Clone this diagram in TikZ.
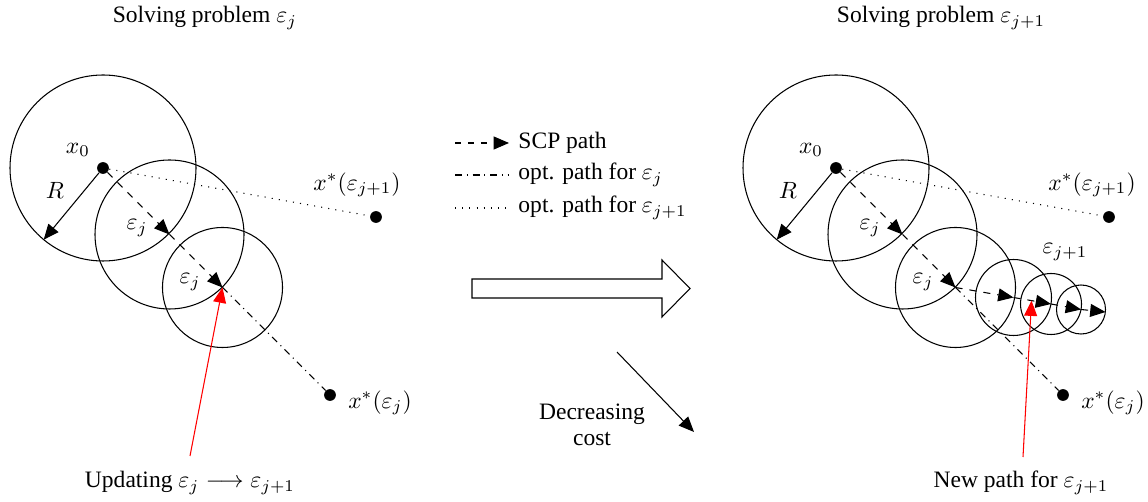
\documentclass[tikz,border=0pt]{standalone}
\usepackage{fontspec}
\setmainfont{Liberation Serif}
\usetikzlibrary{arrows.meta,calc}
\tikzset{
  ring/.style={draw, line width=0.45pt},
  dot/.style={circle, fill=black, inner sep=0pt, minimum size=5pt},
  lbl/.style={inner sep=0pt},
  scp/.style={dashed, line width=0.45pt, -{Triangle[length=6.5pt,width=5.5pt]}},
  optj/.style={line width=0.45pt, dash pattern=on 3pt off 2pt on 0.45pt off 2pt},
  optjj/.style={line width=0.45pt, dash pattern=on 0.45pt off 2.6pt},
  radarrow/.style={line width=0.45pt, -{Triangle[length=6.5pt,width=5.5pt]}},
  redarrow/.style={red, line width=0.45pt, -{Triangle[length=6.5pt,width=5.5pt]}},
}
\begin{document}
\begin{tikzpicture}[x=0.425pt, y=-0.425pt]
\useasboundingbox (0,0) rectangle (1148,502);

% ---------- Titles ----------
\node[lbl] (tL) at (205,18) {Solving problem $\varepsilon_j$};
\node[lbl] (tR) at (941,18) {Solving problem $\varepsilon_{j+1}$};

% ---------- Left panel ----------
\coordinate (c2) at (169.5,234.5);
\coordinate (c3) at (222.5,287.5);
\coordinate (Rend) at (43.7,239.7);
\node[dot] (x0) at (103,168) {};
\node[dot] (xsj) at (330,395) {};
\node[dot] (xsjj) at (376,217) {};
\draw[ring] (103,168) circle[radius=93];
\draw[ring] (c2) circle[radius=74.5];
\draw[ring] (c3) circle[radius=60];
\draw[optjj] (x0) -- (xsjj);
\draw[optj] (c3) -- (xsj);
\draw[scp] (x0) -- (c2);
\draw[scp] (c2) -- (c3);
\draw[radarrow] (x0) -- (Rend);
\node[lbl] (lx0) at (78,150) {$x_0$};
\node[lbl] (lR) at (55,190) {$R$};
\node[lbl] (le1) at (137,228) {$\varepsilon_j$};
\node[lbl] (le2) at (190,282) {$\varepsilon_j$};
\node[lbl] (lxsjj) at (357,185) {$x^{*}(\varepsilon_{j+1})$};
\node[lbl] (lxsj) at (380,403) {$x^{*}(\varepsilon_j)$};
\node[lbl] (upd) at (190,483) {Updating $\varepsilon_j \longrightarrow \varepsilon_{j+1}$};
\coordinate (updtop) at (190,456);
\draw[redarrow] (updtop) -- (c3);

% ---------- Legend ----------
\coordinate (la1) at (455,143); \coordinate (lb1) at (509,143);
\coordinate (la2) at (455,175); \coordinate (lb2) at (508,175);
\coordinate (la3) at (455,208); \coordinate (lb3) at (508,208);
\draw[scp, dash pattern=on 2.5pt off 3pt] (la1) -- (lb1);
\draw[optj] (la2) -- (lb2);
\draw[optjj] (la3) -- (lb3);
\node[lbl, anchor=west] (lg1) at (518,143) {SCP path};
\node[lbl, anchor=west] (lg2) at (518,175) {opt. path for $\varepsilon_j$};
\node[lbl, anchor=west] (lg3) at (518,208) {opt. path for $\varepsilon_{j+1}$};

% ---------- Big hollow arrow ----------
\draw[line width=0.45pt, fill=white] (472,279) -- (662,279) -- (662,260) -- (690,288.5)
  -- (662,317) -- (662,298) -- (472,298) -- cycle;

% ---------- Decreasing cost ----------
\coordinate (dc1) at (617,352);
\coordinate (dc2) at (694,432);
\draw[radarrow] (dc1) -- (dc2);
\node[lbl, align=center] (dctext) at (592,425) {Decreasing\\[-1pt]cost};

% ---------- Right panel ----------
\coordinate (c2R) at (902.5,234.5);
\coordinate (c3R) at (955.5,287.5);
\coordinate (cA) at (1013.5,297.5);
\coordinate (cB) at (1051,304);
\coordinate (cC) at (1081,309.5);
\coordinate (cEnd) at (1105.5,312);
\coordinate (RendR) at (776.7,239.7);
\node[dot] (x0R) at (836,168) {};
\node[dot] (xsjR) at (1063,395) {};
\node[dot] (xsjjR) at (1109,217) {};
\draw[ring] (836,168) circle[radius=93];
\draw[ring] (c2R) circle[radius=74.5];
\draw[ring] (c3R) circle[radius=60];
\draw[ring] (cA) circle[radius=38];
\draw[ring] (cB) circle[radius=30.5];
\draw[ring] (cC) circle[radius=24.5];
\draw[optjj] (x0R) -- (xsjjR);
\draw[optj] (c3R) -- (xsjR);
\draw[scp] (x0R) -- (c2R);
\draw[scp] (c2R) -- (c3R);
\draw[scp] (c3R) -- (cA);
\draw[scp] (cA) -- (cB);
\draw[scp] (cB) -- (cC);
\draw[scp] (cC) -- (cEnd);
\draw[radarrow] (x0R) -- (RendR);
\node[lbl] (lx0R) at (811,150) {$x_0$};
\node[lbl] (lRR) at (788,190) {$R$};
\node[lbl] (le1R) at (870,228) {$\varepsilon_j$};
\node[lbl] (le2R) at (923,282) {$\varepsilon_j$};
\node[lbl] (le3R) at (1065,252) {$\varepsilon_{j+1}$};
\node[lbl] (lxsjjR) at (1092,185) {$x^{*}(\varepsilon_{j+1})$};
\node[lbl] (lxsjR) at (1113,403) {$x^{*}(\varepsilon_j)$};
\node[lbl] (newp) at (1021,483) {New path for $\varepsilon_{j+1}$};
\coordinate (newtop) at (1023,457);
\coordinate (abmid) at ($(cA)!0.48!(cB)$);
\draw[redarrow] (newtop) -- (abmid);
\end{tikzpicture}
\end{document}
